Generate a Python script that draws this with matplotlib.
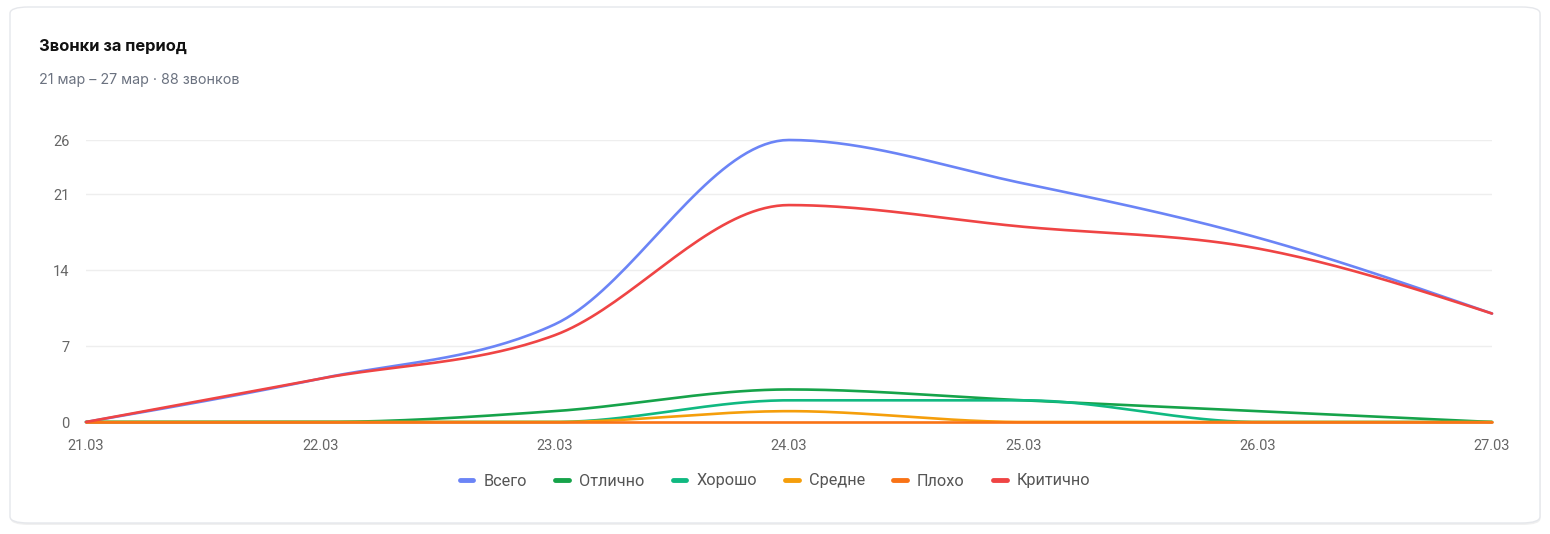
import numpy as np
import matplotlib
matplotlib.use("Agg")
import matplotlib.pyplot as plt
from matplotlib.patches import FancyBboxPatch
from matplotlib.lines import Line2D

dates = ["21.03", "22.03", "23.03", "24.03", "25.03", "26.03", "27.03"]
total = [0, 4, 9, 26, 22, 17, 10]
excellent = [0, 0, 1, 3, 2, 1, 0]
good = [0, 0, 0, 2, 2, 0, 0]
average = [0, 0, 0, 1, 0, 0, 0]
bad = [0, 0, 0, 0, 0, 0, 0]
critical = [0, 4, 8, 20, 18, 16, 10]
y_ticks = [0, 7, 14, 21, 26]

series = [
    ("Всего", total, "#6b84f6"),
    ("Отлично", excellent, "#16a34a"),
    ("Хорошо", good, "#10b981"),
    ("Средне", average, "#f59e0b"),
    ("Плохо", bad, "#f97316"),
    ("Критично", critical, "#ef4444"),
]


def monotone(x, y, n=40):
    # d3 curveMonotoneX style smoothing between the points
    x = np.asarray(x, float)
    y = np.asarray(y, float)
    h = np.diff(x)
    s = np.diff(y) / h
    t = np.zeros(len(x))
    for i in range(1, len(x) - 1):
        p = (s[i - 1] * h[i] + s[i] * h[i - 1]) / (h[i - 1] + h[i])
        t[i] = (np.sign(s[i - 1]) + np.sign(s[i])) * min(abs(s[i - 1]), abs(s[i]), 0.5 * abs(p))
    t[0] = (3 * s[0] - t[1]) / 2
    t[-1] = (3 * s[-1] - t[-2]) / 2
    xs, ys = [], []
    for i in range(len(x) - 1):
        u = np.linspace(0, 1, n)
        h00 = 2 * u**3 - 3 * u**2 + 1
        h10 = u**3 - 2 * u**2 + u
        h01 = -2 * u**3 + 3 * u**2
        h11 = u**3 - u**2
        xs.append(x[i] + u * h[i])
        ys.append(h00 * y[i] + h10 * h[i] * t[i] + h01 * y[i + 1] + h11 * h[i] * t[i + 1])
    return np.concatenate(xs), np.concatenate(ys)


W, H = 1550, 534
fig = plt.figure(figsize=(W / 100, H / 100), dpi=100)
fig.patch.set_facecolor("white")

# card
shadow = FancyBboxPatch((10.5 / W, 9 / H), 1530 / W, 516 / H,
                        boxstyle="round,pad=0,rounding_size=0.012",
                        transform=fig.transFigure, facecolor="#f0f0f0",
                        edgecolor="none", zorder=0)
card = FancyBboxPatch((10 / W, 11 / H), 1530 / W, 516 / H,
                      boxstyle="round,pad=0,rounding_size=0.012",
                      transform=fig.transFigure, facecolor="white",
                      edgecolor="#e5e7eb", linewidth=1, zorder=1)
fig.patches.extend([shadow, card])

fig.text(39 / W, 1 - 46 / H, "Звонки за период", fontsize=11.9, fontweight="bold",
         family=["Inter", "DejaVu Sans"], color="#111111", va="center", zorder=3)
fig.text(39 / W, 1 - 80 / H, "21 мар – 27 мар · 88 звонков", fontsize=10.3,
         family=["Inter", "DejaVu Sans"], color="#6b7280", va="center", zorder=3)

ax = fig.add_axes([86 / W, 112 / H, 1406 / W, 282 / H])
ax.set_facecolor("none")
ax.set_zorder(2)
x = np.arange(len(dates))
for name, vals, col in series:
    sx, sy = monotone(x, vals)
    ax.plot(sx, sy, color=col, lw=1.9, clip_on=False, solid_capstyle="round")

ax.set_xlim(0, len(dates) - 1)
ax.set_ylim(0, 26)
ax.set_yticks(y_ticks)
ax.set_xticks(x)
ax.set_xticklabels(dates)
for sp in ax.spines.values():
    sp.set_visible(False)
ax.grid(axis="y", color="#eeeeee", lw=1)
ax.tick_params(length=0, labelsize=10.5, colors="#666666")
ax.tick_params(axis="y", pad=12)
ax.tick_params(axis="x", pad=12)
for lab in ax.get_xticklabels() + ax.get_yticklabels():
    lab.set_family(["Roboto", "DejaVu Sans"])

handles = [Line2D([], [], color=c, lw=3.5, solid_capstyle="round") for _, _, c in series]
fig.legend(handles, [s[0] for s in series], loc="center", bbox_to_anchor=(775 / W, 1 - 481 / H),
           ncol=6, frameon=False, handlelength=0.85, handletextpad=0.6, columnspacing=1.75,
           prop={"family": ["Roboto", "DejaVu Sans"], "size": 11.7}, labelcolor="#555555")

fig.savefig("out.png", dpi=100, facecolor="white")
